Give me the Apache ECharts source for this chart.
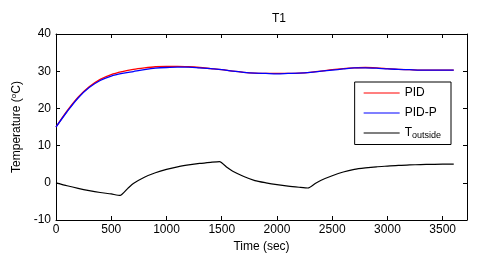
<!DOCTYPE html>
<html><head><meta charset="utf-8">
<script src="https://cdn.jsdelivr.net/npm/echarts@6/dist/echarts.min.js"></script>
<style>html,body{margin:0;padding:0;background:#fff}#c{width:480px;height:264px}</style>
</head><body><div id="c"></div>
<script>
const timePID = [0,100,200,300,400,500,600,700,800,900,1000,1100,1200,1300,1400,1500,1600,1700,1800,1900,2000,2100,2200,2300,2400,2500,2600,2700,2800,2900,3000,3100,3200,3300,3400,3500,3600];
const pid  = [15,19.3,23.0,25.8,27.8,29.1,29.9,30.5,30.9,31.2,31.3,31.3,31.2,31.0,30.7,30.4,30.0,29.7,29.5,29.4,29.4,29.4,29.5,29.7,30.0,30.4,30.7,30.9,31.0,30.9,30.7,30.5,30.4,30.3,30.3,30.3,30.3];
const pidP = [15,19.1,22.8,25.6,27.5,28.7,29.4,29.9,30.4,30.8,31.0,31.1,31.1,30.9,30.7,30.4,30.0,29.7,29.5,29.4,29.3,29.4,29.5,29.7,30.0,30.3,30.6,30.9,30.9,30.8,30.6,30.5,30.4,30.3,30.3,30.3,30.3];
const timeOut = [0,100,200,300,400,500,580,650,700,800,900,1000,1100,1200,1300,1400,1480,1550,1600,1700,1800,1900,2000,2100,2200,2280,2350,2400,2500,2600,2700,2800,2900,3000,3100,3200,3300,3400,3500,3600];
const tOutside = [0,-0.8,-1.5,-2.1,-2.6,-3.0,-3.4,-1.5,-0.2,1.5,2.7,3.6,4.3,4.8,5.2,5.5,5.7,4.1,3.1,1.7,0.6,0.0,-0.5,-0.9,-1.2,-1.4,-0.1,0.7,1.9,2.9,3.6,4.0,4.3,4.5,4.7,4.8,4.9,4.95,5.0,5.0];
const xTicks = [0,500,1000,1500,2000,2500,3000,3500];
const yTicks = [-10,0,10,20,30,40];

const zip = (a,b)=>a.map((t,i)=>[t,b[i]]);
const chart = echarts.init(document.getElementById('c'));
const font = 'Liberation Sans, Arial, sans-serif';
const baseAxis = {
  axisLine:{show:true,onZero:false,lineStyle:{color:'#000',width:1}},
  axisTick:{show:true,inside:true,length:4,lineStyle:{color:'#000'}},
  splitLine:{show:false}
};
chart.setOption({
  backgroundColor:'#fff',
  animation:false,
  title:{text:'T1',left:267,top:8,textStyle:{fontFamily:font,fontSize:12,fontWeight:'normal',color:'#000'}},
  grid:{left:56,right:13,top:34,bottom:44},
  legend:{
    right:29,top:82,orient:'vertical',
    borderColor:'#000',borderWidth:1,padding:[5,10,4,9],itemGap:8,
    itemWidth:36,itemHeight:10,
    icon:'path://M0,4.5 L36,4.5 L36,5.5 L0,5.5 Z',
    textStyle:{fontFamily:font,fontSize:12,color:'#000',rich:{b:{fontFamily:font,fontSize:12,color:'#000'},s:{fontFamily:font,fontSize:9,color:'#000',verticalAlign:'bottom',padding:[6,0,0,0]}}},
    formatter:function(n){ if(n==='T_outside') return '{b|T}{s|outside}'; return n; },
    data:['PID','PID-P','T_outside']
  },
  xAxis:[Object.assign({},baseAxis,{
    type:'value',min:0,max:3720,interval:500,position:'bottom',
    name:'Time (sec)',nameLocation:'middle',nameGap:19,
    nameTextStyle:{fontFamily:font,fontSize:12,color:'#000'},
    axisLabel:{fontFamily:font,fontSize:12,color:'#000',margin:4,showMaxLabel:false,
      formatter:v=>xTicks.includes(v)?String(v):''}
  }),Object.assign({},baseAxis,{
    type:'value',min:0,max:3720,interval:500,position:'top',axisLabel:{show:false}
  })],
  yAxis:[Object.assign({},baseAxis,{
    type:'value',min:-10,max:40,interval:10,position:'left',
    name:'Temperature ({sup|o}C)',nameLocation:'middle',nameGap:28,
    nameTextStyle:{fontFamily:font,fontSize:12,color:'#000',rich:{sup:{fontFamily:font,fontSize:8,color:'#000',verticalAlign:'top',padding:[0,0,6,0]}}},
    axisLabel:{fontFamily:font,fontSize:12,color:'#000',margin:5}
  }),Object.assign({},baseAxis,{
    type:'value',min:-10,max:40,interval:10,position:'right',axisLabel:{show:false}
  })],
  series:[
    {name:'PID',type:'line',data:zip(timePID,pid),smooth:0.3,showSymbol:false,symbol:'none',lineStyle:{color:'#ff0000',width:1.3},itemStyle:{color:'#ff0000'}},
    {name:'PID-P',type:'line',data:zip(timePID,pidP),smooth:0.3,showSymbol:false,symbol:'none',lineStyle:{color:'#0000ff',width:1.3},itemStyle:{color:'#0000ff'}},
    {name:'T_outside',type:'line',data:zip(timeOut,tOutside),smooth:0.2,showSymbol:false,symbol:'none',lineStyle:{color:'#000',width:1.2},itemStyle:{color:'#000'}}
  ]
});
</script></body></html>
